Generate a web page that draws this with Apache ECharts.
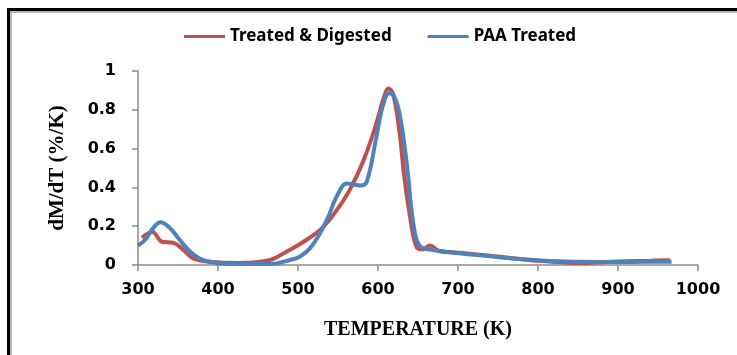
<!DOCTYPE html>
<html>
<head>
<meta charset="utf-8">
<script src="https://cdn.jsdelivr.net/npm/echarts@6/dist/echarts.min.js"></script>
<style>
  html, body { margin: 0; padding: 0; background: #fff; overflow: hidden; }
  #frame { position: absolute; left: 7px; top: 8px; width: 760px; height: 400px;
           border-left: 3px solid #000; border-top: 3px solid #000; }
  #inner { position: absolute; left: 0; top: 0; width: 100%; height: 100%;
           border-left: 2px solid #b8b8b8; border-top: 2px solid #b8b8b8; }
  #chart { position: absolute; left: 0; top: 0; width: 737px; height: 355px; }
</style>
</head>
<body>
<div id="frame"><div id="inner"></div></div>
<div id="chart"></div>
<script>
// Treated & Digested
const tempRed = [305, 318, 330, 344, 357, 369, 390, 427, 465, 486, 507, 530, 548, 565, 582, 598, 607, 613, 619, 627, 633, 640, 648, 656, 665, 677, 702, 752, 800, 855, 900, 940, 965];
const valRed = [0.14, 0.17, 0.12, 0.115, 0.077, 0.034, 0.017, 0.01, 0.026, 0.07, 0.12, 0.19, 0.28, 0.39, 0.54, 0.73, 0.86, 0.91, 0.88, 0.68, 0.45, 0.25, 0.094, 0.08, 0.10, 0.072, 0.063, 0.043, 0.022, 0.01, 0.018, 0.022, 0.025];
// PAA Treated
const tempBlue = [300, 309, 319, 328, 340, 352, 365, 377, 390, 415, 465, 490, 502, 515, 527, 537, 548, 561, 570, 578, 586, 598, 606, 614, 620, 627, 636, 644, 652, 669, 702, 752, 794, 836, 877, 919, 967];
const valBlue = [0.10, 0.13, 0.19, 0.22, 0.19, 0.13, 0.07, 0.034, 0.017, 0.005, 0.005, 0.026, 0.043, 0.086, 0.16, 0.24, 0.35, 0.42, 0.415, 0.41, 0.43, 0.66, 0.82, 0.885, 0.87, 0.78, 0.52, 0.22, 0.10, 0.077, 0.06, 0.04, 0.026, 0.018, 0.016, 0.016, 0.017];

const seriesNames = ["Treated & Digested", "PAA Treated"];

const pairs = (xs, ys) => xs.map((x, i) => [x, ys[i]]);

const myChart = echarts.init(document.getElementById("chart"));
const tickFont = { fontFamily: "DejaVu Sans", fontWeight: "bold", fontSize: 16, color: "#000" };

myChart.setOption({
  animation: false,
  color: ["#C0504D", "#4F81BD"],
  grid: { left: 138, right: 39, top: 71, bottom: 90 },
  legend: {
    left: 179,
    top: 23,
    icon: "rect",
    itemWidth: 41,
    itemHeight: 3,
    itemGap: 36,
    textStyle: { fontFamily: "Noto Sans", fontWeight: "bold", fontSize: 17, color: "#000" },
    data: seriesNames,
  },
  xAxis: {
    type: "value",
    min: 300,
    max: 1000,
    interval: 100,
    name: "TEMPERATURE (K)",
    nameLocation: "middle",
    nameGap: 55,
    nameTextStyle: { fontFamily: "Liberation Serif", fontWeight: "bold", fontSize: 20, color: "#000" },
    axisLine: { lineStyle: { color: "#8c8c8c", width: 1.5 } },
    axisTick: { length: 6, lineStyle: { color: "#8c8c8c", width: 1.5 } },
    axisLabel: { ...tickFont, margin: 17, formatter: (v) => String(v) },
    splitLine: { show: false },
  },
  yAxis: {
    type: "value",
    min: 0,
    max: 1,
    interval: 0.2,
    name: "dM/dT (%/K)",
    nameLocation: "middle",
    nameGap: 70,
    nameTextStyle: { fontFamily: "Liberation Serif", fontWeight: "bold", fontSize: 21, color: "#000" },
    axisLine: { show: true, lineStyle: { color: "#8c8c8c", width: 1.5 } },
    axisTick: { show: true, length: 6, lineStyle: { color: "#8c8c8c", width: 1.5 } },
    axisLabel: { ...tickFont, margin: 22 },
    splitLine: { show: false },
  },
  series: [
    {
      name: seriesNames[0],
      type: "line",
      data: pairs(tempRed, valRed),
      symbol: "none",
      smooth: 0.4,
      lineStyle: { width: 4 },
    },
    {
      name: seriesNames[1],
      type: "line",
      data: pairs(tempBlue, valBlue),
      symbol: "none",
      smooth: 0.4,
      lineStyle: { width: 4 },
    },
  ],
});
</script>
</body>
</html>
